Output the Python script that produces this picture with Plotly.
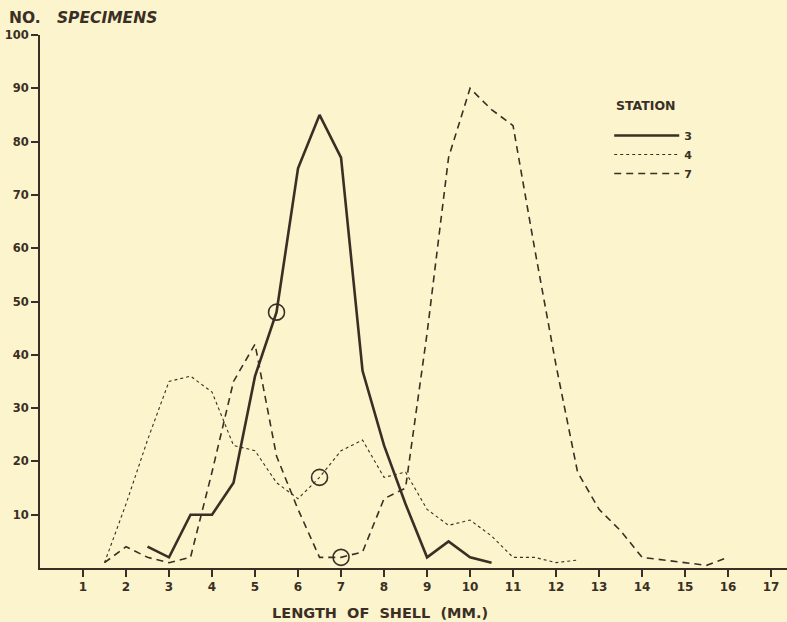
import plotly.graph_objects as go

# ---- data ----
station3_x = [2.5, 3, 3.5, 4, 4.5, 5, 5.5, 6, 6.5, 7, 7.5, 8, 8.5, 9, 9.5, 10, 10.5]
station3_y = [4, 2, 10, 10, 16, 36, 48, 75, 85, 77, 37, 23, 12, 2, 5, 2, 1]

station4_x = [1.5, 2, 2.5, 3, 3.5, 4, 4.5, 5, 5.5, 6, 6.5, 7, 7.5, 8, 8.5, 9, 9.5, 10,
              10.5, 11, 11.5, 12, 12.5]
station4_y = [1, 12, 24, 35, 36, 33, 23, 22, 16, 13, 17, 22, 24, 17, 18, 11, 8, 9,
              6, 2, 2, 1, 1.5]

station7_x = [1.5, 2, 2.5, 3, 3.5, 4, 4.5, 5, 5.5, 6, 6.5, 7, 7.5, 8, 8.5, 9, 9.5, 10,
              10.5, 11, 11.5, 12, 12.5, 13, 13.5, 14, 14.5, 15, 15.5, 16]
station7_y = [1, 4, 2, 1, 2, 18, 35, 42, 21, 11, 2, 2, 3, 13, 15, 44, 77, 90,
              86, 83, 60, 38, 18, 11, 7, 2, 1.5, 1, 0.5, 2]

circle_x = [5.5, 6.5, 7]
circle_y = [48, 17, 2]

x_ticks = list(range(1, 18))
y_ticks = list(range(10, 101, 10))

INK = "#3a2f25"
BG = "#fcf4cc"
FONT = "DejaVu Sans"

fig = go.Figure()
fig.add_trace(go.Scatter(x=station3_x, y=station3_y, mode="lines", name="3",
                         line=dict(color=INK, width=2.6)))
fig.add_trace(go.Scatter(x=station4_x, y=station4_y, mode="lines", name="4",
                         line=dict(color=INK, width=1.1, dash="dot")))
fig.add_trace(go.Scatter(x=station7_x, y=station7_y, mode="lines", name="7",
                         line=dict(color=INK, width=1.6, dash="7px,5px")))
fig.add_trace(go.Scatter(x=circle_x, y=circle_y, mode="markers", showlegend=False,
                         marker=dict(symbol="circle-open", size=16,
                                     line=dict(color=INK, width=1.6), color=INK)))

fig.update_layout(
    width=787, height=622,
    margin=dict(l=40, r=0, t=35, b=54),
    paper_bgcolor=BG, plot_bgcolor=BG,
    font=dict(family=FONT, color=INK, size=11),
    showlegend=True,
    legend=dict(
        x=0.762, y=(568 - 121) / 533, xanchor="left", yanchor="top",
        bgcolor="rgba(0,0,0,0)", itemwidth=65,
        font=dict(size=11, family=FONT, color=INK, weight="bold"),
        tracegroupgap=0, itemclick=False,
    ),
    xaxis=dict(
        range=[0, 17.37], tickvals=x_ticks, ticktext=[str(v) for v in x_ticks],
        showgrid=False, zeroline=False, showline=True, linecolor=INK, linewidth=2,
        ticks="outside", ticklen=7, tickwidth=1.5, tickcolor=INK,
        tickfont=dict(size=12, family=FONT, color=INK, weight="bold"),
    ),
    yaxis=dict(
        range=[0, 100], tickvals=y_ticks, ticktext=[str(v) for v in y_ticks],
        showgrid=False, zeroline=False, showline=True, linecolor=INK, linewidth=2,
        ticks="outside", ticklen=7, tickwidth=1.5, tickcolor=INK,
        tickfont=dict(size=11.5, family=FONT, color=INK, weight="bold"),
    ),
    annotations=[
        dict(text="<b>NO.&nbsp;&nbsp;&nbsp;<i>SPECIMENS</i></b>", xref="paper", yref="paper",
             x=-33 / 747, y=(568 - 18) / 533, xanchor="left", yanchor="middle",
             showarrow=False, font=dict(size=15.5, family=FONT, color=INK)),
        dict(text="<b>STATION</b>", xref="paper", yref="paper",
             x=(614 - 40) / 747, y=(568 - 106) / 533, xanchor="left", yanchor="middle",
             showarrow=False, font=dict(size=12.5, family=FONT, color=INK)),
        dict(text="<b>LENGTH&nbsp;&nbsp;OF&nbsp;&nbsp;SHELL&nbsp;&nbsp;(MM.)</b>",
             xref="paper", yref="paper",
             x=(380 - 40) / 747, y=(568 - 613) / 533, xanchor="center", yanchor="middle",
             showarrow=False, font=dict(size=14.5, family=FONT, color=INK)),
    ],
)

fig.write_html("out.html", config={"displayModeBar": False},
               post_script="document.body.style.margin='0';document.body.style.padding='0';")
